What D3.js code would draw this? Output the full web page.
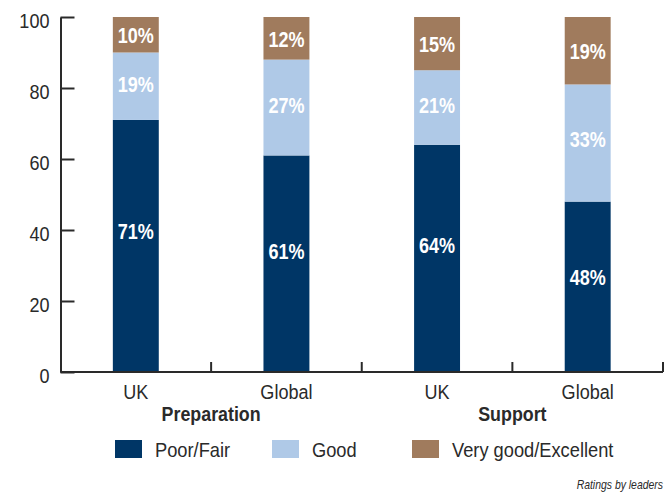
<!DOCTYPE html>
<html>
<head>
<meta charset="utf-8">
<script src="https://cdn.jsdelivr.net/npm/d3@7"></script>
<style>
  html, body { margin: 0; padding: 0; background: #fff; }
  svg { display: block; font-family: "Liberation Sans", Arial, Helvetica, sans-serif; }
</style>
</head>
<body>
<svg id="chart" width="666" height="495"></svg>
<script>
// Ratings of preparation and support, UK vs global (percent of leaders)
const categories = ["UK", "Global", "UK", "Global"];
const categoryGroup = [0, 0, 1, 1];
const groups = ["Preparation", "Support"];
const seriesNames = ["Poor/Fair", "Good", "Very good/Excellent"];
const poorFair = [71, 61, 64, 48];
const good = [19, 27, 21, 33];
const veryGood = [10, 12, 15, 19];
const yTicks = [0, 20, 40, 60, 80, 100];
const footnote = "Ratings by leaders";

const colors = ["#003666", "#afc9e7", "#a07b5d"];
const inkColor = "#2a2a2a";
const narrow = 0.86;          // horizontal squeeze for the condensed lettering
const labelFrac = [0.56, 0.53, 0.49]; // where each series' value label sits inside its segment

const svg = d3.select("#chart");
const plotLeft = 60.5, plotRight = 663, plotTop = 17, plotBottom = 372;

const x = d3.scaleBand()
  .domain(d3.range(categories.length))
  .range([plotLeft, plotRight])
  .paddingInner(0.695)
  .paddingOuter(0.3475);

const y = d3.scaleLinear().domain([0, 100]).range([plotBottom, plotTop]);

// stacked layout built from the three series
const table = categories.map((c, i) => ({
  idx: i,
  [seriesNames[0]]: poorFair[i],
  [seriesNames[1]]: good[i],
  [seriesNames[2]]: veryGood[i]
}));
const stacked = d3.stack().keys(seriesNames)(table);

const layers = svg.append("g").selectAll("g")
  .data(stacked)
  .join("g")
  .attr("fill", (d, i) => colors[i]);

layers.selectAll("rect")
  .data(d => d)
  .join("rect")
  .attr("x", d => x(d.data.idx))
  .attr("width", x.bandwidth())
  .attr("y", d => y(d[1]))
  .attr("height", d => y(d[0]) - y(d[1]));

// value labels
layers.each(function(layer, si) {
  d3.select(this).selectAll("text")
    .data(layer)
    .join("text")
    .attr("text-anchor", "middle")
    .attr("fill", "#fff")
    .attr("font-weight", "bold")
    .attr("font-size", "22px")
    .attr("dy", "0.36em")
    .attr("transform", d => {
      const cx = x(d.data.idx) + x.bandwidth() / 2;
      const cy = y(d[0] + (d[1] - d[0]) * labelFrac[si]);
      return `translate(${cx},${cy}) scale(0.82,1)`;
    })
    .text(d => (d[1] - d[0]) + "%");
});

// y axis with inward ticks
const yAxis = svg.append("g")
  .attr("transform", `translate(${plotLeft},0)`)
  .call(d3.axisLeft(y).tickValues(yTicks).tickSize(-14).tickSizeOuter(0).tickFormat(d3.format("d")));
yAxis.select(".domain").attr("stroke", inkColor).attr("stroke-width", 2);
yAxis.selectAll(".tick line").attr("stroke", inkColor).attr("stroke-width", 2);
yAxis.selectAll(".tick text")
  .attr("x", null)
  .attr("dy", "0.5em")
  .attr("transform", `translate(-11,0) scale(${narrow},1)`)
  .attr("fill", inkColor)
  .attr("font-size", "21px")
  .attr("font-family", null);

// x axis baseline with separators between categories
const xAxisG = svg.append("g");
xAxisG.append("line")
  .attr("x1", plotLeft).attr("x2", plotRight)
  .attr("y1", y(0)).attr("y2", y(0))
  .attr("stroke", inkColor).attr("stroke-width", 2);
const separators = d3.range(1, categories.length + 1).map(k => plotLeft + x.step() * k);
xAxisG.selectAll("line.sep")
  .data(separators)
  .join("line")
  .attr("class", "sep")
  .attr("x1", d => d).attr("x2", d => d)
  .attr("y1", y(0)).attr("y2", y(0) - 10)
  .attr("stroke", inkColor).attr("stroke-width", 2);

// category labels
svg.append("g").selectAll("text")
  .data(categories)
  .join("text")
  .attr("text-anchor", "middle")
  .attr("font-size", "21px")
  .attr("fill", inkColor)
  .attr("transform", (d, i) => `translate(${x(i) + x.bandwidth() / 2},399) scale(${narrow},1)`)
  .text(d => d);

// group labels centred under their categories
svg.append("g").selectAll("text")
  .data(groups)
  .join("text")
  .attr("text-anchor", "middle")
  .attr("font-size", "20.5px")
  .attr("font-weight", "bold")
  .attr("fill", inkColor)
  .attr("transform", (g, gi) => {
    const members = d3.range(categories.length).filter(i => categoryGroup[i] === gi);
    const cx = d3.mean(members, i => x(i) + x.bandwidth() / 2);
    return `translate(${cx},420.5) scale(0.87,1)`;
  })
  .text(d => d);

// legend
const legendX = [115, 272, 412];
const legend = svg.append("g").selectAll("g")
  .data(seriesNames)
  .join("g")
  .attr("transform", (d, i) => `translate(${legendX[i]},440)`);
legend.append("rect")
  .attr("width", 27).attr("height", 18)
  .attr("fill", (d, i) => colors[i]);
legend.append("text")
  .attr("font-size", "21px")
  .attr("fill", inkColor)
  .attr("transform", `translate(40,16.5) scale(0.87,1)`)
  .text(d => d);

// footnote
svg.append("text")
  .attr("text-anchor", "end")
  .attr("font-size", "12px")
  .attr("font-style", "italic")
  .attr("fill", inkColor)
  .attr("transform", `translate(663,489) scale(0.87,1)`)
  .text(footnote);
</script>
</body>
</html>
